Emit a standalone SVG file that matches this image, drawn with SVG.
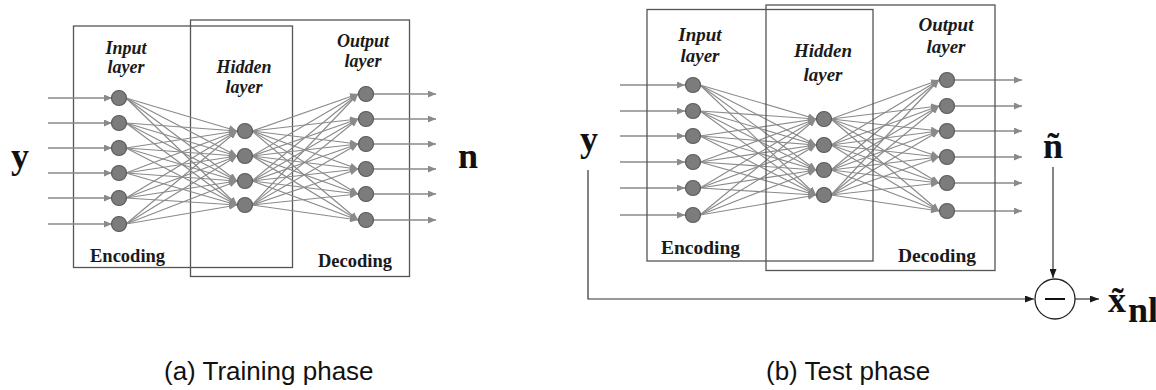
<svg xmlns="http://www.w3.org/2000/svg" width="1156" height="390" viewBox="0 0 1156 390">
  <defs>
    <marker id="ah" markerUnits="userSpaceOnUse" markerWidth="8" markerHeight="7" refX="8" refY="3.5" orient="auto">
      <path d="M0,0 L8,3.5 L0,7 z" fill="#8a8a8a"/>
    </marker>
    <marker id="ahk" markerUnits="userSpaceOnUse" markerWidth="9" markerHeight="7" refX="9" refY="3.5" orient="auto">
      <path d="M0,0 L9,3.5 L0,7 z" fill="#1a1a1a"/>
    </marker>
    <style>
      .box { fill: none; stroke: #555; stroke-width: 1.3; }
      .w { stroke: #8a8a8a; stroke-width: 1.15; fill: none; marker-end: url(#ah); }
      .io { stroke: #8a8a8a; stroke-width: 1.4; fill: none; marker-end: url(#ah); }
      .sig { stroke: #333; stroke-width: 1.2; fill: none; marker-end: url(#ahk); }
      .neu { fill: #7c7c7c; stroke: #5a5a5a; stroke-width: 1.2; }
      .lay { font-family: "Liberation Serif", "Times New Roman", serif; font-weight: bold; font-style: italic; fill: #1a1a1a; text-anchor: middle; }
      .cod { font-family: "Liberation Serif", "Times New Roman", serif; font-weight: bold; fill: #1a1a1a; }
      .sym { font-family: "Liberation Serif", "Times New Roman", serif; font-weight: bold; font-size: 36px; fill: #111; }
      .cap { font-family: "Liberation Sans", Arial, sans-serif; font-size: 26px; fill: #111; }
    </style>
  </defs>

  <!-- ===== (a) training phase ===== -->
  <g id="a-encoding-box"><rect class="box" x="73.5" y="26" width="219" height="241.5"/></g>
  <g id="a-decoding-box"><rect class="box" x="190.5" y="20" width="219" height="256.5"/></g>

  <g id="connectors">
    <!-- (a) external inputs / outputs -->
    <line class="io" x1="48" y1="98" x2="112" y2="98"/>
    <line class="io" x1="48" y1="123" x2="112" y2="123"/>
    <line class="io" x1="48" y1="148" x2="112" y2="148"/>
    <line class="io" x1="48" y1="173" x2="112" y2="173"/>
    <line class="io" x1="48" y1="198" x2="112" y2="198"/>
    <line class="io" x1="48" y1="224" x2="112" y2="224"/>
    <line class="io" x1="373" y1="94" x2="436" y2="94"/>
    <line class="io" x1="373" y1="119" x2="436" y2="119"/>
    <line class="io" x1="373" y1="144" x2="436" y2="144"/>
    <line class="io" x1="373" y1="169" x2="436" y2="169"/>
    <line class="io" x1="373" y1="194" x2="436" y2="194"/>
    <line class="io" x1="373" y1="220" x2="436" y2="220"/>

    <!-- (a) input -> hidden -->
    <line class="w" x1="126" y1="98" x2="237" y2="131"/><line class="w" x1="126" y1="98" x2="237" y2="156"/><line class="w" x1="126" y1="98" x2="237" y2="181"/><line class="w" x1="126" y1="98" x2="237" y2="205"/>
    <line class="w" x1="126" y1="123" x2="237" y2="131"/><line class="w" x1="126" y1="123" x2="237" y2="156"/><line class="w" x1="126" y1="123" x2="237" y2="181"/><line class="w" x1="126" y1="123" x2="237" y2="205"/>
    <line class="w" x1="126" y1="148" x2="237" y2="131"/><line class="w" x1="126" y1="148" x2="237" y2="156"/><line class="w" x1="126" y1="148" x2="237" y2="181"/><line class="w" x1="126" y1="148" x2="237" y2="205"/>
    <line class="w" x1="126" y1="173" x2="237" y2="131"/><line class="w" x1="126" y1="173" x2="237" y2="156"/><line class="w" x1="126" y1="173" x2="237" y2="181"/><line class="w" x1="126" y1="173" x2="237" y2="205"/>
    <line class="w" x1="126" y1="198" x2="237" y2="131"/><line class="w" x1="126" y1="198" x2="237" y2="156"/><line class="w" x1="126" y1="198" x2="237" y2="181"/><line class="w" x1="126" y1="198" x2="237" y2="205"/>
    <line class="w" x1="126" y1="224" x2="237" y2="131"/><line class="w" x1="126" y1="224" x2="237" y2="156"/><line class="w" x1="126" y1="224" x2="237" y2="181"/><line class="w" x1="126" y1="224" x2="237" y2="205"/>

    <!-- (a) hidden -> output -->
    <line class="w" x1="252" y1="131" x2="358" y2="94"/><line class="w" x1="252" y1="131" x2="358" y2="119"/><line class="w" x1="252" y1="131" x2="358" y2="144"/><line class="w" x1="252" y1="131" x2="358" y2="169"/><line class="w" x1="252" y1="131" x2="358" y2="194"/><line class="w" x1="252" y1="131" x2="358" y2="220"/>
    <line class="w" x1="252" y1="156" x2="358" y2="94"/><line class="w" x1="252" y1="156" x2="358" y2="119"/><line class="w" x1="252" y1="156" x2="358" y2="144"/><line class="w" x1="252" y1="156" x2="358" y2="169"/><line class="w" x1="252" y1="156" x2="358" y2="194"/><line class="w" x1="252" y1="156" x2="358" y2="220"/>
    <line class="w" x1="252" y1="181" x2="358" y2="94"/><line class="w" x1="252" y1="181" x2="358" y2="119"/><line class="w" x1="252" y1="181" x2="358" y2="144"/><line class="w" x1="252" y1="181" x2="358" y2="169"/><line class="w" x1="252" y1="181" x2="358" y2="194"/><line class="w" x1="252" y1="181" x2="358" y2="220"/>
    <line class="w" x1="252" y1="205" x2="358" y2="94"/><line class="w" x1="252" y1="205" x2="358" y2="119"/><line class="w" x1="252" y1="205" x2="358" y2="144"/><line class="w" x1="252" y1="205" x2="358" y2="169"/><line class="w" x1="252" y1="205" x2="358" y2="194"/><line class="w" x1="252" y1="205" x2="358" y2="220"/>

    <!-- (b) external inputs / outputs -->
    <line class="io" x1="620" y1="85" x2="685" y2="85"/>
    <line class="io" x1="620" y1="111" x2="685" y2="111"/>
    <line class="io" x1="620" y1="136" x2="685" y2="136"/>
    <line class="io" x1="620" y1="162" x2="685" y2="162"/>
    <line class="io" x1="620" y1="188" x2="685" y2="188"/>
    <line class="io" x1="620" y1="215" x2="685" y2="215"/>
    <line class="io" x1="955" y1="80" x2="1022" y2="80"/>
    <line class="io" x1="955" y1="106" x2="1022" y2="106"/>
    <line class="io" x1="955" y1="131" x2="1022" y2="131"/>
    <line class="io" x1="955" y1="157" x2="1022" y2="157"/>
    <line class="io" x1="955" y1="183" x2="1022" y2="183"/>
    <line class="io" x1="955" y1="211" x2="1022" y2="211"/>

    <!-- (b) input -> hidden -->
    <line class="w" x1="700" y1="85" x2="816" y2="119"/><line class="w" x1="700" y1="85" x2="816" y2="145"/><line class="w" x1="700" y1="85" x2="816" y2="170"/><line class="w" x1="700" y1="85" x2="816" y2="195"/>
    <line class="w" x1="700" y1="111" x2="816" y2="119"/><line class="w" x1="700" y1="111" x2="816" y2="145"/><line class="w" x1="700" y1="111" x2="816" y2="170"/><line class="w" x1="700" y1="111" x2="816" y2="195"/>
    <line class="w" x1="700" y1="136" x2="816" y2="119"/><line class="w" x1="700" y1="136" x2="816" y2="145"/><line class="w" x1="700" y1="136" x2="816" y2="170"/><line class="w" x1="700" y1="136" x2="816" y2="195"/>
    <line class="w" x1="700" y1="162" x2="816" y2="119"/><line class="w" x1="700" y1="162" x2="816" y2="145"/><line class="w" x1="700" y1="162" x2="816" y2="170"/><line class="w" x1="700" y1="162" x2="816" y2="195"/>
    <line class="w" x1="700" y1="188" x2="816" y2="119"/><line class="w" x1="700" y1="188" x2="816" y2="145"/><line class="w" x1="700" y1="188" x2="816" y2="170"/><line class="w" x1="700" y1="188" x2="816" y2="195"/>
    <line class="w" x1="700" y1="215" x2="816" y2="119"/><line class="w" x1="700" y1="215" x2="816" y2="145"/><line class="w" x1="700" y1="215" x2="816" y2="170"/><line class="w" x1="700" y1="215" x2="816" y2="195"/>

    <!-- (b) hidden -> output -->
    <line class="w" x1="831" y1="119" x2="939" y2="80"/><line class="w" x1="831" y1="119" x2="939" y2="106"/><line class="w" x1="831" y1="119" x2="939" y2="131"/><line class="w" x1="831" y1="119" x2="939" y2="157"/><line class="w" x1="831" y1="119" x2="939" y2="183"/><line class="w" x1="831" y1="119" x2="939" y2="211"/>
    <line class="w" x1="831" y1="145" x2="939" y2="80"/><line class="w" x1="831" y1="145" x2="939" y2="106"/><line class="w" x1="831" y1="145" x2="939" y2="131"/><line class="w" x1="831" y1="145" x2="939" y2="157"/><line class="w" x1="831" y1="145" x2="939" y2="183"/><line class="w" x1="831" y1="145" x2="939" y2="211"/>
    <line class="w" x1="831" y1="170" x2="939" y2="80"/><line class="w" x1="831" y1="170" x2="939" y2="106"/><line class="w" x1="831" y1="170" x2="939" y2="131"/><line class="w" x1="831" y1="170" x2="939" y2="157"/><line class="w" x1="831" y1="170" x2="939" y2="183"/><line class="w" x1="831" y1="170" x2="939" y2="211"/>
    <line class="w" x1="831" y1="195" x2="939" y2="80"/><line class="w" x1="831" y1="195" x2="939" y2="106"/><line class="w" x1="831" y1="195" x2="939" y2="131"/><line class="w" x1="831" y1="195" x2="939" y2="157"/><line class="w" x1="831" y1="195" x2="939" y2="183"/><line class="w" x1="831" y1="195" x2="939" y2="211"/>

    <!-- (b) residual path: y minus estimated noise -->
    <polyline class="sig" points="588,170 588,299 1034,299"/>
    <line class="sig" x1="1053" y1="167" x2="1053" y2="278"/>
    <line class="sig" x1="1075" y1="299" x2="1099" y2="299"/>
  </g>

  <!-- (a) neurons -->
  <g id="a-input-layer">
    <circle class="neu" cx="119" cy="98" r="7.5"/><circle class="neu" cx="119" cy="123" r="7.5"/><circle class="neu" cx="119" cy="148" r="7.5"/>
    <circle class="neu" cx="119" cy="173" r="7.5"/><circle class="neu" cx="119" cy="198" r="7.5"/><circle class="neu" cx="119" cy="224" r="7.5"/>
  </g>
  <g id="a-hidden-layer">
    <circle class="neu" cx="245" cy="131" r="7.5"/><circle class="neu" cx="245" cy="156" r="7.5"/>
    <circle class="neu" cx="245" cy="181" r="7.5"/><circle class="neu" cx="245" cy="205" r="7.5"/>
  </g>
  <g id="a-output-layer">
    <circle class="neu" cx="366" cy="94" r="7.5"/><circle class="neu" cx="366" cy="119" r="7.5"/><circle class="neu" cx="366" cy="144" r="7.5"/>
    <circle class="neu" cx="366" cy="169" r="7.5"/><circle class="neu" cx="366" cy="194" r="7.5"/><circle class="neu" cx="366" cy="220" r="7.5"/>
  </g>

  <g id="a-labels">
    <text class="lay" font-size="18" x="126" y="54">Input</text>
    <text class="lay" font-size="18" x="126" y="73">layer</text>
    <text class="lay" font-size="18" x="244" y="73">Hidden</text>
    <text class="lay" font-size="18" x="244" y="93">layer</text>
    <text class="lay" font-size="18" x="363" y="47">Output</text>
    <text class="lay" font-size="18" x="363" y="67">layer</text>
    <text class="cod" font-size="18.5" x="90" y="262">Encoding</text>
    <text class="cod" font-size="18.5" x="318" y="267">Decoding</text>
    <text class="sym" x="11" y="168">y</text>
    <text class="sym" x="458" y="168">n</text>
  </g>

  <!-- ===== (b) test phase ===== -->
  <g id="b-encoding-box"><rect class="box" x="647" y="9.5" width="226" height="251.5"/></g>
  <g id="b-decoding-box"><rect class="box" x="766" y="5" width="229" height="265.5"/></g>

  <g id="b-input-layer">
    <circle class="neu" cx="693" cy="85" r="7.5"/><circle class="neu" cx="693" cy="111" r="7.5"/><circle class="neu" cx="693" cy="136" r="7.5"/>
    <circle class="neu" cx="693" cy="162" r="7.5"/><circle class="neu" cx="693" cy="188" r="7.5"/><circle class="neu" cx="693" cy="215" r="7.5"/>
  </g>
  <g id="b-hidden-layer">
    <circle class="neu" cx="824" cy="119" r="7.5"/><circle class="neu" cx="824" cy="145" r="7.5"/>
    <circle class="neu" cx="824" cy="170" r="7.5"/><circle class="neu" cx="824" cy="195" r="7.5"/>
  </g>
  <g id="b-output-layer">
    <circle class="neu" cx="947" cy="80" r="7.5"/><circle class="neu" cx="947" cy="106" r="7.5"/><circle class="neu" cx="947" cy="131" r="7.5"/>
    <circle class="neu" cx="947" cy="157" r="7.5"/><circle class="neu" cx="947" cy="183" r="7.5"/><circle class="neu" cx="947" cy="211" r="7.5"/>
  </g>

  <g id="b-labels">
    <text class="lay" font-size="19" x="700" y="41">Input</text>
    <text class="lay" font-size="19" x="700" y="62">layer</text>
    <text class="lay" font-size="19" x="823" y="57">Hidden</text>
    <text class="lay" font-size="19" x="823" y="81">layer</text>
    <text class="lay" font-size="19" x="946" y="31">Output</text>
    <text class="lay" font-size="19" x="946" y="53">layer</text>
    <text class="cod" font-size="19.5" x="661" y="254">Encoding</text>
    <text class="cod" font-size="19.5" x="898" y="262">Decoding</text>
    <text class="sym" x="580" y="151">y</text>
    <text class="sym" x="1043" y="158">ñ</text>
  </g>

  <g id="b-subtractor">
    <circle cx="1055" cy="299" r="20" fill="#fff" stroke="#222" stroke-width="1.3"/>
    <line x1="1045" y1="299" x2="1065" y2="299" stroke="#111" stroke-width="2"/>
  </g>

  <g id="b-output-label">
    <text class="sym" font-size="38" x="1108" y="312">x&#x303;</text>
    <text class="sym" font-size="26" x="1128" y="322">nl</text>
  </g>

  <g id="captions">
    <text class="cap" x="164" y="380">(a) Training phase</text>
    <text class="cap" x="766" y="380">(b) Test phase</text>
  </g>
</svg>
